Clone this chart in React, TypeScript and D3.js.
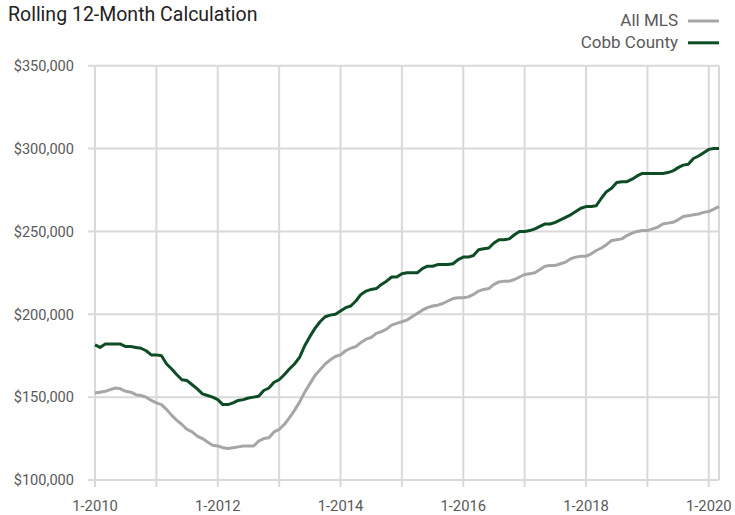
import React from "react";
import * as d3 from "d3";

// Monthly values, Jan 2010 .. Mar 2020
const startYear = 2010;
const allMLS = [
  152.5, 153, 153.5, 154.5, 155.5, 155, 153.5, 153, 151.5, 151, 150, 148,
  146.5, 145.5, 142.5, 139, 136, 133.5, 130.5, 129, 126.5, 125, 123, 121,
  120.5, 119.5, 119, 119.5, 120, 120.5, 120.5, 120.5, 123.5, 125, 125.5, 129,
  130.5, 133.5, 137.5, 142, 147, 153, 158, 163, 166.5, 170, 172.5, 174.5,
  175.5, 178, 179.5, 180.5, 183, 185, 186, 188.5, 189.5, 191, 193.5, 194.5,
  195.5, 196.5, 198.5, 200.5, 202.5, 204, 205, 205.5, 206.5, 208, 209.5, 210,
  210, 210.5, 212, 214, 215, 215.5, 218, 219.5, 220, 220, 221, 222.5,
  224, 224.5, 225, 227, 229, 229.5, 229.5, 230.5, 231.5, 233.5, 234.5, 235,
  235, 236.5, 238.5, 240, 242, 244.5, 245, 245.5, 247.5, 249, 250, 250.5,
  250.5, 251.5, 252.5, 254.5, 255, 255.5, 257, 259, 259.5, 260, 260.5, 261.5,
  262, 263.5, 265,
].map((v) => v * 1000);

const cobbCounty = [
  181.5, 180, 182, 182, 182, 182, 180.5, 180.5, 180, 179.5, 178, 175.5,
  175.5, 175, 170, 167, 163.5, 160.5, 160, 157.5, 155, 152, 151, 150,
  148.5, 145.5, 145.5, 146.5, 148, 148.5, 149.5, 150, 150.5, 154, 155.5, 159,
  160.5, 163.5, 167, 170, 174, 181, 186.5, 191.5, 195.5, 198.5, 199.5, 200,
  202, 204, 205, 208, 212, 214, 215, 215.5, 218, 220, 222.5, 222.5,
  224.5, 225, 225, 225, 227.5, 229, 229, 230, 230, 230, 230.5, 233,
  234.5, 234.5, 235.5, 239, 239.5, 240, 243, 245, 245, 245.5, 248, 250,
  250, 250.5, 251.5, 253, 254.5, 254.5, 255.5, 257, 258.5, 260, 262, 264,
  265, 265, 265.5, 270, 274, 276, 279.5, 280, 280, 281.5, 283.5, 285,
  285, 285, 285, 285, 285.5, 286.5, 288.5, 290, 290.5, 294, 295.5, 297.5,
  299.5, 300, 300,
].map((v) => v * 1000);

const yTicks = [100000, 150000, 200000, 250000, 300000, 350000];
const yearTicks = [2010, 2011, 2012, 2013, 2014, 2015, 2016, 2017, 2018, 2019, 2020];
const labeledYears = [2010, 2012, 2014, 2016, 2018, 2020];
const seriesNames = ["All MLS", "Cobb County"];
const title = "Rolling 12-Month Calculation";

const W = 735;
const H = 515;
const left = 95;
const right = 719;
const top = 65.7;
const bottom = 480;

const GRID = "#d9d9d9";
const GRAY = "#a6a6a6";
const GREEN = "#0d4c24";
const TEXT = "#595959";
const FONT = "Roboto, 'Liberation Sans', sans-serif";

export default function App() {
  React.useEffect(() => {
    document.body.style.margin = "0";
  }, []);

  const n = allMLS.length;
  const x = d3.scaleLinear().domain([0, n - 1]).range([left, right]);
  const y = d3.scaleLinear().domain([100000, 350000]).range([bottom, top]);
  const line = d3
    .line<number>()
    .x((_, i) => x(i))
    .y((d) => y(d))
    .curve(d3.curveLinear);

  const monthOf = (yr: number) => (yr - startYear) * 12;

  return (
    <svg width={W} height={H} style={{ display: "block", background: "#fff" }} fontFamily={FONT}>
      <text x={8} y={21} fontSize={19.5} fill="#222">
        {title}
      </text>

      {/* legend */}
      {seriesNames.map((s, i) => (
        <g key={s}>
          <text x={678} y={26 + i * 21.5} fontSize={17} fill={TEXT} textAnchor="end">
            {s}
          </text>
          <line
            x1={688}
            x2={719}
            y1={21 + i * 21.8}
            y2={21 + i * 21.8}
            stroke={i === 0 ? GRAY : GREEN}
            strokeWidth={3}
          />
        </g>
      ))}

      {/* horizontal gridlines */}
      {yTicks.map((t) => (
        <g key={t}>
          <line x1={88} x2={right} y1={y(t)} y2={y(t)} stroke={GRID} strokeWidth={2} />
          <text x={74} y={y(t)} dy="0.36em" fontSize={14.6} fill={TEXT} textAnchor="end">
            {d3.format("$,")(t)}
          </text>
        </g>
      ))}

      {/* vertical gridlines */}
      {yearTicks.map((yr) => (
        <line
          key={yr}
          x1={x(monthOf(yr))}
          x2={x(monthOf(yr))}
          y1={top}
          y2={bottom + 7}
          stroke={GRID}
          strokeWidth={2}
        />
      ))}
      <line x1={right} x2={right} y1={top} y2={bottom} stroke={GRID} strokeWidth={2} />

      {labeledYears.map((yr) => (
        <text key={yr} x={x(monthOf(yr))} y={511} fontSize={14.8} fill={TEXT} textAnchor="middle">
          {`1-${yr}`}
        </text>
      ))}

      <path d={line(allMLS) || ""} fill="none" stroke={GRAY} strokeWidth={3} strokeLinejoin="round" />
      <path d={line(cobbCounty) || ""} fill="none" stroke={GREEN} strokeWidth={3} strokeLinejoin="round" />
    </svg>
  );
}
